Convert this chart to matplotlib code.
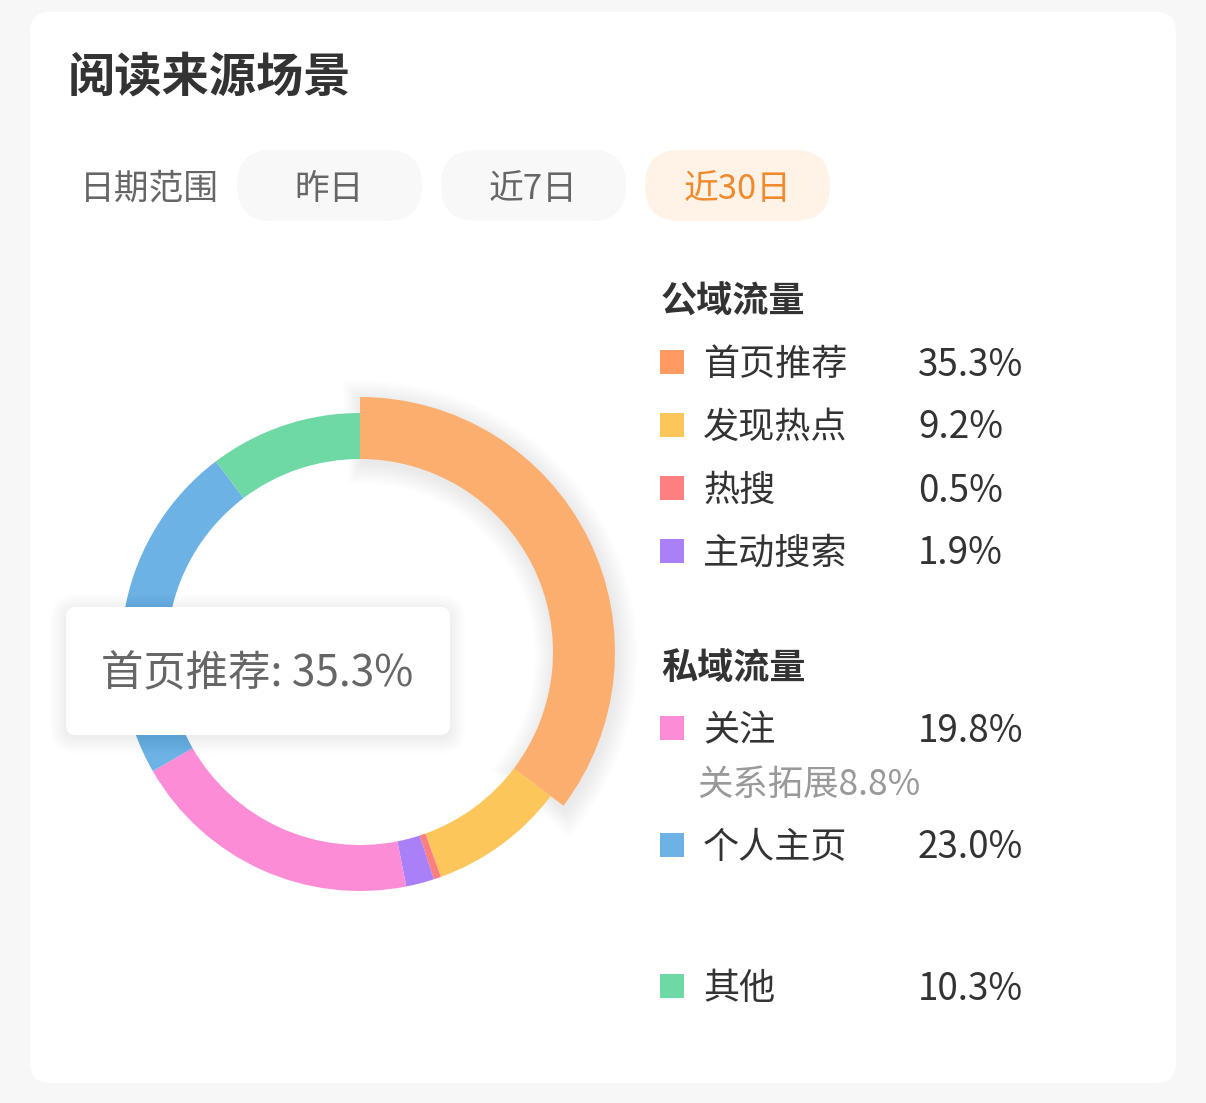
import matplotlib.pyplot as plt
from matplotlib.patches import Wedge, FancyBboxPatch, Rectangle

plt.rcParams['font.family'] = ['Noto Sans CJK SC', 'DejaVu Sans']

# data
title = '阅读来源场景'
range_label = '日期范围'
range_options = ['昨日', '近7日', '近30日']
selected_option = 2

names = ['首页推荐', '发现热点', '热搜', '主动搜索', '关注', '个人主页', '其他']
shares = [35.3, 9.2, 0.5, 1.9, 19.8, 23.0, 10.3]
ring_colors = ['#FCAE6E', '#FCC65A', '#FE7F7F', '#A980F7', '#FD8CD6', '#6CB2E4', '#6FD9A6']
legend_colors = ['#FE9A62', '#FCC65A', '#FE7F7F', '#A980F7', '#FD8CD6', '#6CB2E4', '#6FD9A6']
public_group = '公域流量'
private_group = '私域流量'
sub_name = '关系拓展'
sub_share = 8.8
highlight = 0

W, H = 1206, 1103
fig = plt.figure(figsize=(W / 100, H / 100), dpi=100)
fig.patch.set_facecolor('#F7F7F7')
ax = fig.add_axes([0, 0, 1, 1])
ax.set_xlim(0, W)
ax.set_ylim(H, 0)
ax.set_aspect('equal')
ax.axis('off')

dy = 3  # CJK glyphs sit a bit high with va='center'

# card
ax.add_patch(FancyBboxPatch((30, 12), 1146, 1071, boxstyle='round,pad=0,rounding_size=20',
                            fc='white', ec='none', zorder=0))

ax.text(68, 75 + dy, title, fontsize=34, fontweight='bold', color='#333333', va='center', ha='left')

# date range pills
ax.text(80, 186 + dy, range_label, fontsize=25, color='#666666', va='center', ha='left')
pill_x = [237, 441, 645]
for i, (lab, px) in enumerate(zip(range_options, pill_x)):
    sel = i == selected_option
    ax.add_patch(FancyBboxPatch((px, 150), 185, 71, boxstyle='round,pad=0,rounding_size=35',
                                fc='#FFF3E8' if sel else '#F8F8F8', ec='none', zorder=1))
    ax.text(px + 92.5, 186 + dy, lab, fontsize=25, color='#F08A2C' if sel else '#666666',
            va='center', ha='center', zorder=2)

# donut
cx, cy = 360, 652
r_out, r_in, r_hi = 239, 193, 255
start = -90.0
for i, (v, c) in enumerate(zip(shares, ring_colors)):
    t1 = start
    t2 = start + v * 3.6
    if i == highlight:
        # soft shadow
        for k in range(1, 22):
            ax.add_patch(Wedge((cx + 2, cy + 4), r_hi + k, t1 - k * 0.2, t2 + k * 0.2,
                               width=r_hi - r_in + 2 * k, fc='#000000', ec='none',
                               alpha=0.0045, zorder=2))
        ax.add_patch(Wedge((cx, cy), r_hi, t1, t2, width=r_hi - r_in, fc=c, ec='none', zorder=4))
    else:
        ax.add_patch(Wedge((cx, cy), r_out, t1, t2, width=r_out - r_in, fc=c, ec='none', zorder=3))
    start = t2

# tooltip
tx, ty, tw, th = 66, 607, 384, 128
for k in range(1, 18):
    ax.add_patch(FancyBboxPatch((tx - k + 1, ty - k + 4), tw + 2 * k - 2, th + 2 * k - 2,
                                boxstyle='round,pad=0,rounding_size=%d' % (10 + k),
                                fc='#000000', ec='none', alpha=0.0045, zorder=5))
ax.add_patch(FancyBboxPatch((tx, ty), tw, th, boxstyle='round,pad=0,rounding_size=10',
                            fc='white', ec='none', zorder=6))
ax.text(101, 671 + dy, '%s: %.1f%%' % (names[highlight], shares[highlight]), fontsize=30.5,
        color='#666666', va='center', ha='left', zorder=7)

# legend
def legend_row(idx, y):
    ax.add_patch(Rectangle((660, y - 12), 24, 24, fc=legend_colors[idx], ec='none'))
    ax.text(703, y + dy, names[idx], fontsize=26, color='#333333', va='center', ha='left')
    ax.text(918, y + dy, '%.1f%%' % shares[idx], fontsize=26.5, color='#333333', va='center', ha='left')

ax.text(661, 299 + dy, public_group, fontsize=26, fontweight='bold', color='#333333', va='center', ha='left')
for idx, y in zip([0, 1, 2, 3], [362, 425, 488, 551]):
    legend_row(idx, y)

ax.text(661, 666 + dy, private_group, fontsize=26, fontweight='bold', color='#333333', va='center', ha='left')
legend_row(4, 728)
ax.text(697, 782 + dy, '%s%.1f%%' % (sub_name, sub_share), fontsize=25.5, color='#999999',
        va='center', ha='left')
legend_row(5, 845)
legend_row(6, 986)

fig.savefig('out.png', dpi=100, facecolor=fig.get_facecolor())
